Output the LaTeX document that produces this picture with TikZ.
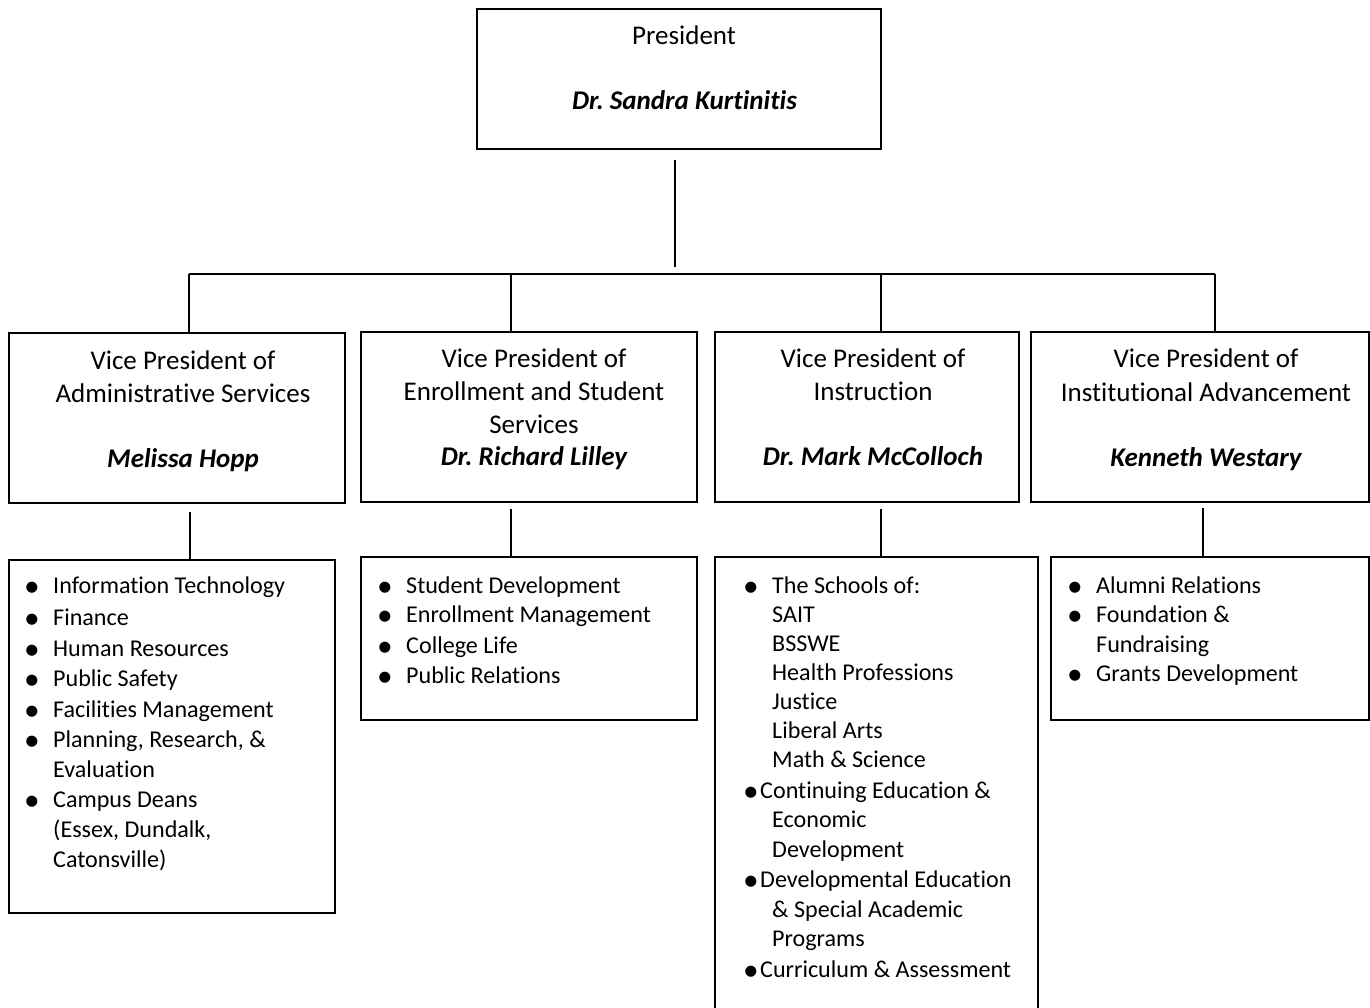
\documentclass[tikz,border=0pt]{standalone}
\usepackage{fontspec}
\usepackage{graphicx}
\setmainfont{Carlito}[Ligatures={NoCommon,NoContextual}]
\frenchspacing
\newcommand{\bigbul}{\raisebox{-3.2pt}{\scalebox{1.3}{\textbullet}}}
\newcommand{\bl}{\llap{\bigbul\hspace{13.5pt}}}
\newcommand{\tb}{\llap{\bigbul\hspace{1.5pt}}}
\begin{document}
\begin{tikzpicture}[x=1pt,y=-1pt,
  box/.style={draw=black,line width=1.6pt,inner sep=0pt,fill=none},
  conn/.style={draw=black,line width=1.6pt},
  ttl/.style={inner sep=0pt,anchor=base,font=\fontsize{27}{33}\selectfont},
  nm/.style={inner sep=0pt,anchor=base,font=\fontsize{27}{33}\selectfont\bfseries\itshape},
  li/.style={inner sep=0pt,anchor=base west,font=\fontsize{24.1}{30}\selectfont}]
\useasboundingbox (0,0) rectangle (1370,1008);
\fill[white] (0,0) rectangle (1370,1008);

% boxes
\node[box,minimum width=404pt,minimum height=140pt] (pres) at (679,79) {};
\node[box,minimum width=336pt,minimum height=170pt] (v1) at (177,418) {};
\node[box,minimum width=336pt,minimum height=170pt] (v2) at (529,417) {};
\node[box,minimum width=304pt,minimum height=170pt] (v3) at (867,417) {};
\node[box,minimum width=338pt,minimum height=170pt] (v4) at (1200,417) {};
\node[box,minimum width=326pt,minimum height=353pt] (l1) at (172,736.5) {};
\node[box,minimum width=336pt,minimum height=163pt] (l2) at (529,638.5) {};
\node[box,minimum width=323pt,minimum height=458pt] (l3) at (876.5,786) {};
\node[box,minimum width=318pt,minimum height=163pt] (l4) at (1210,638.5) {};

% connectors
\coordinate (pa) at (675,160);
\coordinate (pb) at (675,267);
\draw[conn] (pa) -- (pb);
\coordinate (h1) at (189,274);
\coordinate (h2) at (511,274);
\coordinate (h3) at (881,274);
\coordinate (h4) at (1215,274);
\draw[conn] (h1) -- (h4);
\draw[conn] (h1) -- (h1 |- v1.north);
\draw[conn] (h2) -- (h2 |- v2.north);
\draw[conn] (h3) -- (h3 |- v3.north);
\draw[conn] (h4) -- (h4 |- v4.north);
\coordinate (d1) at (190,512);
\coordinate (d2) at (511,509);
\coordinate (d3) at (881,509);
\coordinate (d4) at (1203,508);
\draw[conn] (d1) -- (d1 |- l1.north);
\draw[conn] (d2) -- (d2 |- l2.north);
\draw[conn] (d3) -- (d3 |- l3.north);
\draw[conn] (d4) -- (d4 |- l4.north);

% president
\node[ttl] (pt) at (684,45) {President};
\node[nm] (pn) at (684.5,110) {Dr. Sandra Kurtinitis};

% VP 1
\node[ttl] (v1a) at (183,369) {Vice President of};
\node[ttl] (v1b) at (183,402) {Administrative Services};
\node[nm] (v1n) at (183,467) {Melissa Hopp};
% VP 2
\node[ttl] (v2a) at (534,367) {Vice President of};
\node[ttl] (v2b) at (534,400) {Enrollment and Student};
\node[ttl] (v2c) at (534,433) {Services};
\node[nm] (v2n) at (534,465) {Dr. Richard Lilley};
% VP 3
\node[ttl] (v3a) at (873,367) {Vice President of};
\node[ttl] (v3b) at (873,400) {Instruction};
\node[nm] (v3n) at (873,465) {Dr. Mark McColloch};
% VP 4
\node[ttl] (v4a) at (1206,367) {Vice President of};
\node[ttl] (v4b) at (1206,401) {Institutional Advancement};
\node[nm] (v4n) at (1206,466) {Kenneth Westary};

% list 1
\node[li] (a1) at (53,593) {\bl Information Technology};
\node[li] (a2) at (53,625) {\bl Finance};
\node[li] (a3) at (53,656) {\bl Human Resources};
\node[li] (a4) at (53,686) {\bl Public Safety};
\node[li] (a5) at (53,717) {\bl Facilities Management};
\node[li] (a6) at (53,747) {\bl Planning, Research, \&};
\node[li] (a7) at (53,777) {Evaluation};
\node[li] (a8) at (53,807) {\bl Campus Deans};
\node[li] (a9) at (53,837) {(Essex, Dundalk,};
\node[li] (a10) at (53,867) {Catonsville)};

% list 2
\node[li] (b1) at (406,593) {\bl Student Development};
\node[li] (b2) at (406,622) {\bl Enrollment Management};
\node[li] (b3) at (406,653) {\bl College Life};
\node[li] (b4) at (406,683) {\bl Public Relations};

% list 3
\node[li] (c1) at (772,593) {\bl The Schools of:};
\node[li] (c2) at (772,622) {SAIT};
\node[li] (c3) at (772,651) {BSSWE};
\node[li] (c4) at (772,680) {Health Professions};
\node[li] (c5) at (772,709) {Justice};
\node[li] (c6) at (772,738) {Liberal Arts};
\node[li] (c7) at (772,767) {Math \& Science};
\node[li] (c8) at (760,798) {\tb Continuing Education \&};
\node[li] (c9) at (772,827) {Economic};
\node[li] (c10) at (772,857) {Development};
\node[li] (c11) at (760,887) {\tb Developmental Education};
\node[li] (c12) at (772,917) {\& Special Academic};
\node[li] (c13) at (772,946) {Programs};
\node[li] (c14) at (760,977) {\tb Curriculum \& Assessment};

% list 4
\node[li] (e1) at (1096,593) {\bl Alumni Relations};
\node[li] (e2) at (1096,622) {\bl Foundation \&};
\node[li] (e3) at (1096,652) {Fundraising};
\node[li] (e4) at (1096,681) {\bl Grants Development};
\end{tikzpicture}
\end{document}
